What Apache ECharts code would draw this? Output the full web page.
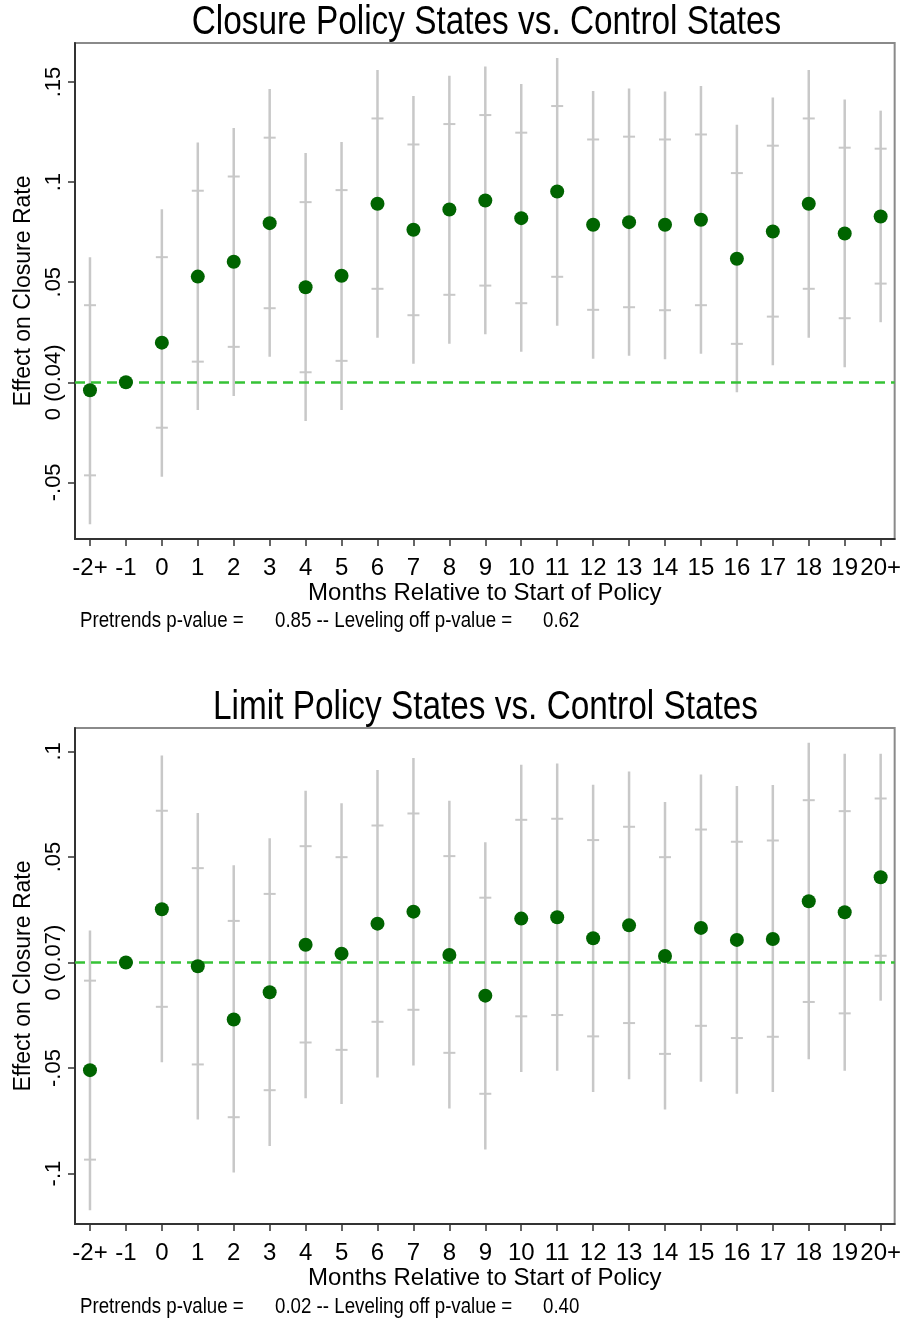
<!DOCTYPE html>
<html>
<head>
<meta charset="utf-8">
<script src="https://cdn.jsdelivr.net/npm/echarts@6/dist/echarts.min.js"></script>
<style>
  html, body { margin: 0; padding: 0; background: #fff; }
  #chart { width: 904px; height: 1319px; }
</style>
</head>
<body>
<div id="chart"></div>
<script>
// ---------- data ----------
const categories = ['-2+','-1','0','1','2','3','4','5','6','7','8','9','10','11','12','13','14','15','16','17','18','19','20+'];

const closureEst  = [-0.004, 0, 0.0198, 0.0528, 0.0602, 0.0795, 0.0475, 0.0532, 0.0892, 0.0762, 0.0863, 0.0908, 0.082, 0.0953, 0.0787, 0.08, 0.0787, 0.0812, 0.0617, 0.0753, 0.0892, 0.0743, 0.0828];
const closureHi95 = [0.0625, null, 0.0865, 0.1198, 0.127, 0.1465, 0.1145, 0.12, 0.156, 0.143, 0.1532, 0.1578, 0.149, 0.162, 0.1455, 0.1468, 0.1453, 0.148, 0.1287, 0.1423, 0.156, 0.1413, 0.1357];
const closureLo95 = [-0.0709, null, -0.0472, -0.0138, -0.0068, 0.0127, -0.0193, -0.0138, 0.0223, 0.0092, 0.0193, 0.024, 0.0152, 0.0283, 0.0117, 0.0132, 0.0115, 0.0142, -0.005, 0.0085, 0.0223, 0.0075, 0.03];
const closureHi90 = [0.0385, null, 0.0625, 0.0957, 0.1028, 0.1222, 0.09, 0.096, 0.1318, 0.1188, 0.129, 0.1335, 0.1247, 0.138, 0.1213, 0.1227, 0.1213, 0.1238, 0.1045, 0.1182, 0.1318, 0.1172, 0.1167];
const closureLo90 = [-0.0465, null, -0.0227, 0.0103, 0.0177, 0.037, 0.005, 0.0107, 0.0467, 0.0335, 0.0437, 0.0483, 0.0395, 0.0527, 0.0362, 0.0375, 0.036, 0.0385, 0.0192, 0.0328, 0.0467, 0.032, 0.0493];

const limitEst  = [-0.051, 0, 0.0252, -0.0018, -0.027, -0.0141, 0.0084, 0.0042, 0.0184, 0.0241, 0.0036, -0.0157, 0.0208, 0.0214, 0.0115, 0.0176, 0.0031, 0.0164, 0.0107, 0.0111, 0.029, 0.0238, 0.0404];
const limitHi95 = [0.0151, null, 0.0981, 0.0708, 0.0461, 0.0589, 0.0814, 0.0755, 0.0912, 0.0969, 0.0766, 0.057, 0.0937, 0.0943, 0.0842, 0.0905, 0.076, 0.0891, 0.0836, 0.0841, 0.1041, 0.0989, 0.0989];
const limitLo95 = [-0.1174, null, -0.0473, -0.0744, -0.0995, -0.0869, -0.0643, -0.0671, -0.0545, -0.0488, -0.0692, -0.0886, -0.0519, -0.0513, -0.0614, -0.0553, -0.0696, -0.0565, -0.0622, -0.0614, -0.0459, -0.0513, -0.0181];
const limitHi90 = [-0.0086, null, 0.0719, 0.0447, 0.0197, 0.0325, 0.0551, 0.0499, 0.0649, 0.0706, 0.0504, 0.0307, 0.0676, 0.0681, 0.058, 0.0643, 0.0499, 0.063, 0.0572, 0.0578, 0.0769, 0.0717, 0.0777];
const limitLo90 = [-0.0934, null, -0.021, -0.0483, -0.0733, -0.0605, -0.0379, -0.0414, -0.0281, -0.0224, -0.0428, -0.0622, -0.0255, -0.0249, -0.035, -0.0287, -0.0433, -0.03, -0.0358, -0.0352, -0.0187, -0.0241, 0.0032];

const closureYTicks  = [-0.05, 0, 0.05, 0.1, 0.15];
const closureYLabels = ['-.05', '0 (0.04)', '.05', '.1', '.15'];
const limitYTicks    = [-0.1, -0.05, 0, 0.05, 0.1];
const limitYLabels   = ['-.1', '-.05', '0 (0.07)', '.05', '.1'];

const titles = ['Closure Policy States vs. Control States', 'Limit Policy States vs. Control States'];
const yName = 'Effect on Closure Rate';
const xName = 'Months Relative to Start of Policy';
const notes = [
  ['Pretrends p-value =', '0.85 -- Leveling off p-value =', '0.62'],
  ['Pretrends p-value =', '0.02 -- Leveling off p-value =', '0.40']
];

// ---------- build ----------
const REG = "'Liberation Sans', Arial, sans-serif";
const xIdx = categories.map((c, i) => i);

function ciData(lo95, hi95, lo90, hi90) {
  const out = [];
  xIdx.forEach(i => {
    if (lo95[i] != null) out.push([i, lo95[i], hi95[i], lo90[i], hi90[i]]);
  });
  return out;
}
function renderCI(params, api) {
  const x = api.value(0);
  const pLo = api.coord([x, api.value(1)]);
  const pHi = api.coord([x, api.value(2)]);
  const pLo9 = api.coord([x, api.value(3)]);
  const pHi9 = api.coord([x, api.value(4)]);
  const hw = 6;
  return {
    type: 'group',
    children: [
      { type: 'line', shape: { x1: pLo[0], y1: pLo[1], x2: pHi[0], y2: pHi[1] }, style: { stroke: '#c8c8c8', lineWidth: 2.5 } },
      { type: 'line', shape: { x1: pLo9[0] - hw, y1: pLo9[1], x2: pLo9[0] + hw, y2: pLo9[1] }, style: { stroke: '#c8c8c8', lineWidth: 2 } },
      { type: 'line', shape: { x1: pHi9[0] - hw, y1: pHi9[1], x2: pHi9[0] + hw, y2: pHi9[1] }, style: { stroke: '#c8c8c8', lineWidth: 2 } }
    ]
  };
}

function xAxisFor(gi) {
  return {
    type: 'value', gridIndex: gi, min: -0.4167, max: 22.39,
    name: xName, nameLocation: 'middle', nameGap: 41,
    nameTextStyle: { fontFamily: REG, fontSize: 24, color: '#000' },
    axisLine: { show: true, onZero: false, lineStyle: { color: '#333', width: 2 } },
    axisTick: { show: true, inside: false, length: 7, customValues: xIdx, lineStyle: { color: '#333', width: 1.5 } },
    axisLabel: {
      customValues: xIdx, margin: 17, fontFamily: REG, fontSize: 24, color: '#000',
      showMinLabel: true, showMaxLabel: true, hideOverlap: false,
      formatter: v => categories[Math.round(v)]
    },
    splitLine: { show: false }
  };
}
function yAxisFor(gi, min, max, ticks, labels) {
  return {
    type: 'value', gridIndex: gi, min: min, max: max,
    name: yName, nameLocation: 'middle', nameGap: 40, nameRotate: 90,
    nameTextStyle: { fontFamily: REG, fontSize: 23, color: '#000' },
    axisLine: { show: true, onZero: false, lineStyle: { color: '#333', width: 2 } },
    axisTick: { show: true, inside: false, length: 7, customValues: ticks, lineStyle: { color: '#333', width: 1.5 } },
    axisLabel: {
      customValues: ticks, rotate: 90, margin: 10, fontFamily: REG, fontSize: 22, color: '#000',
      showMinLabel: true, showMaxLabel: true,
      formatter: v => {
        let k = 0, best = 1e9;
        ticks.forEach((t, j) => { const d = Math.abs(t - v); if (d < best) { best = d; k = j; } });
        return labels[k];
      }
    },
    splitLine: { show: false }
  };
}
function seriesFor(gi, est, lo95, hi95, lo90, hi90) {
  return [
    {
      type: 'custom', xAxisIndex: gi, yAxisIndex: gi, z: 1,
      renderItem: renderCI, data: ciData(lo95, hi95, lo90, hi90),
      encode: { x: 0, y: [1, 2] }, silent: true
    },
    {
      type: 'scatter', xAxisIndex: gi, yAxisIndex: gi, z: 3,
      symbol: 'circle', symbolSize: 14,
      itemStyle: { color: '#006400', opacity: 1 },
      data: xIdx.map(i => [i, est[i]]),
      markLine: {
        silent: true, symbol: 'none', label: { show: false },
        lineStyle: { color: '#36c236', type: [10, 6], width: 2.5 },
        data: [{ yAxis: 0 }], z: 2
      }
    }
  ];
}

function noteText(x, y, text) {
  return { type: 'text', x: x, y: y, scaleX: 0.85,
    style: { text: text, fontFamily: REG, fontSize: 22, fill: '#000', verticalAlign: 'middle' } };
}

const chart = echarts.init(document.getElementById('chart'), null, { renderer: 'canvas' });
chart.setOption({
  animation: false,
  backgroundColor: '#fff',
  grid: [
    { left: 75, right: 8, top: 43, height: 496, show: true, borderColor: '#8a8a8a', borderWidth: 2, backgroundColor: '#fff' },
    { left: 75, right: 7, top: 728, height: 496, show: true, borderColor: '#8a8a8a', borderWidth: 2, backgroundColor: '#fff' }
  ],
  xAxis: [xAxisFor(0), xAxisFor(1)],
  yAxis: [
    yAxisFor(0, -0.0783, 0.1695, closureYTicks, closureYLabels),
    yAxisFor(1, -0.1239, 0.1111, limitYTicks, limitYLabels)
  ],
  series: [
    ...seriesFor(0, closureEst, closureLo95, closureHi95, closureLo90, closureHi90),
    ...seriesFor(1, limitEst, limitLo95, limitHi95, limitLo90, limitHi90)
  ],
  graphic: [
    { type: 'text', x: 486.5, y: 23, scaleX: 0.834,
      style: { text: titles[0], fontFamily: REG, fontSize: 40, fill: '#000', align: 'center', verticalAlign: 'middle' } },
    { type: 'text', x: 485.5, y: 708, scaleX: 0.834,
      style: { text: titles[1], fontFamily: REG, fontSize: 40, fill: '#000', align: 'center', verticalAlign: 'middle' } },
    noteText(80, 621, notes[0][0]),
    noteText(275, 621, notes[0][1]),
    noteText(543, 621, notes[0][2]),
    noteText(80, 1307, notes[1][0]),
    noteText(275, 1307, notes[1][1]),
    noteText(543, 1307, notes[1][2])
  ]
});
</script>
</body>
</html>
